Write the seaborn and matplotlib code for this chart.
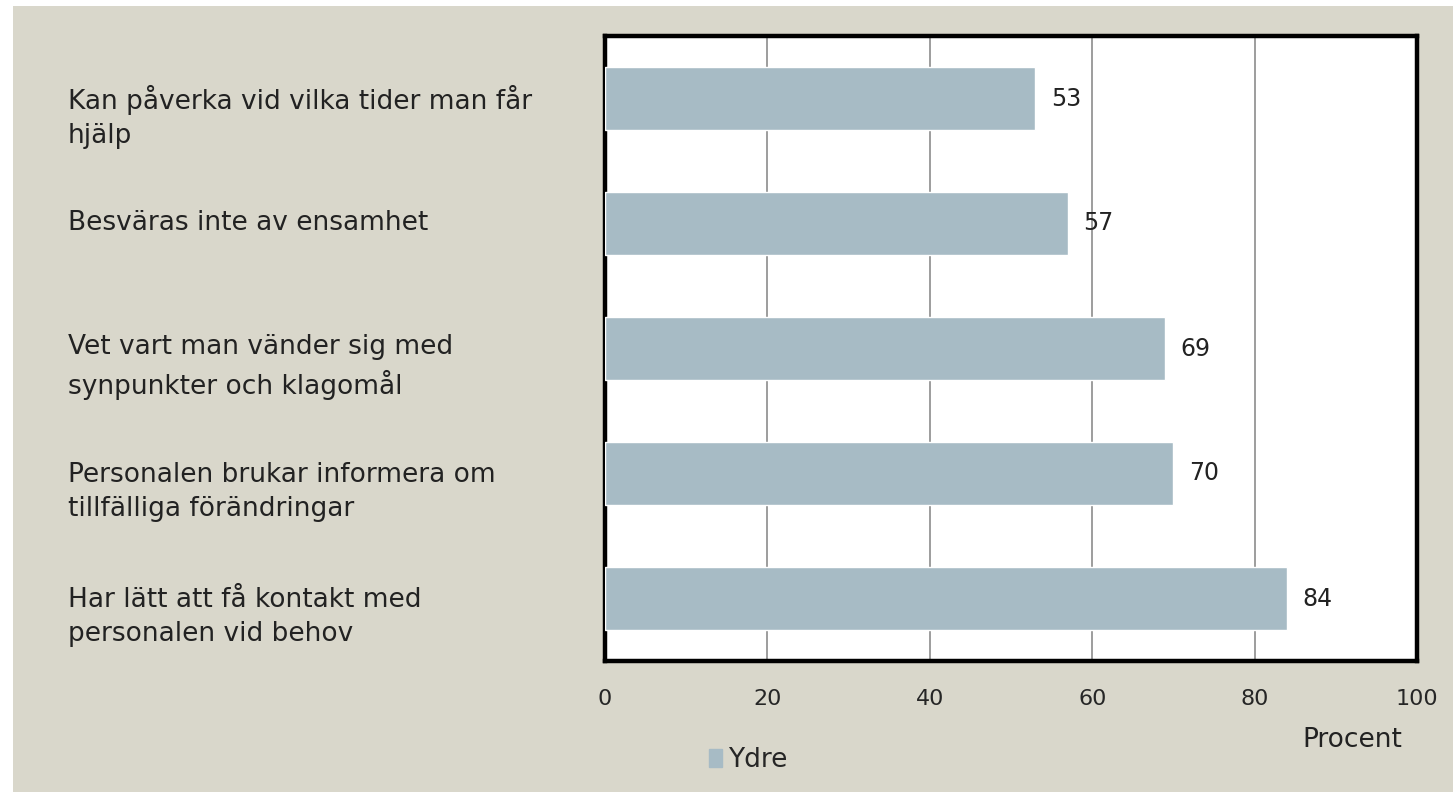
import matplotlib
matplotlib.use("Agg")
import matplotlib.pyplot as plt
import matplotlib.patches as mpatches
import seaborn as sns
import pandas as pd

# data
kategorier = [
    "Kan påverka vid vilka tider man får\nhjälp",
    "Besväras inte av ensamhet",
    "Vet vart man vänder sig med\nsynpunkter och klagomål",
    "Personalen brukar informera om\ntillfälliga förändringar",
    "Har lätt att få kontakt med\npersonalen vid behov",
]
ydre = [53, 57, 69, 70, 84]
xticks = [0, 20, 40, 60, 80, 100]

df = pd.DataFrame({"kategori": kategorier, "procent": ydre})

bg = "#d9d7cb"
barcol = "#a7bbc5"

sns.set_theme(style="white")
plt.rcParams["font.family"] = ["DejaVu Sans"]

fig = plt.figure(figsize=(14.53, 7.92), dpi=100)
fig.patch.set_facecolor("white")
# beige panel, leaves a thin white strip top and left like the original
fig.patches.append(mpatches.Rectangle((13 / 1453, 0), 1, 1 - 6 / 792,
                                      transform=fig.transFigure,
                                      facecolor=bg, edgecolor="none", zorder=-10))

ax = fig.add_axes([605 / 1453, 1 - 661 / 792, 812 / 1453, 625 / 792])
ax.set_facecolor("white")

sns.barplot(data=df, x="procent", y="kategori", color=barcol, width=0.5,
            saturation=1, ax=ax, zorder=3)

ax.set_xlim(0, 100)
ax.set_xticks(xticks)
ax.set_xticklabels([str(t) for t in xticks], fontsize=16)
ax.tick_params(axis="x", length=0, pad=20)
ax.tick_params(axis="y", length=0)
ax.set_yticklabels([])
ax.set_ylabel("")
ax.set_xlabel("")
ax.xaxis.grid(True, color="#8c8c8c", linewidth=1.2, zorder=0)
ax.set_axisbelow(True)
for s in ax.spines.values():
    s.set_visible(True)
    s.set_color("black")
    s.set_linewidth(3.2)

# category labels on the left, left-aligned; two-line labels sit a bit low
for i, lab in enumerate(kategorier):
    dy = 0.15 if "\n" in lab else 0.0
    ax.text(-537 / 8.12, i + dy, lab, ha="left", va="center", fontsize=19,
            linespacing=1.4, color="#222222", clip_on=False)

# value labels
for i, v in enumerate(ydre):
    ax.text(v + 1.9, i, str(v), ha="left", va="center", fontsize=17, color="#222222", zorder=5)

fig.text(1352 / 1453, 1 - 740 / 792, "Procent", ha="center", va="center", fontsize=19, color="#222222")

handle = mpatches.Patch(color=barcol, label="Ydre")
fig.legend(handles=[handle], loc="center", bbox_to_anchor=(748 / 1453, 1 - 760 / 792),
           frameon=False, fontsize=19, handlelength=0.5, handleheight=0.7,
           handletextpad=0.2)

fig.savefig("out.png", dpi=100, facecolor=fig.get_facecolor())
